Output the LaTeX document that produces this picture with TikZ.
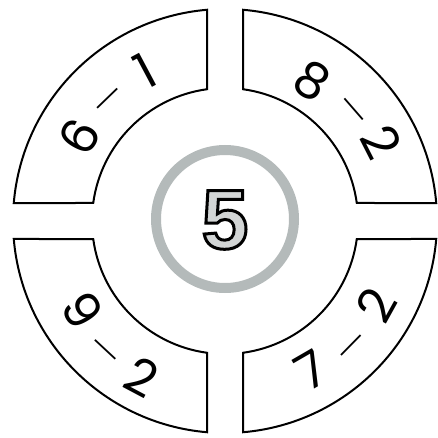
\documentclass[tikz,border=0pt]{standalone}
\usepackage{fontspec}
\setmainfont{Poppins}
\newfontfamily\fivefont{Liberation Sans}
\definecolor{ringgray}{HTML}{B4BABA}
\definecolor{fivegray}{HTML}{D2D5D5}
\begin{document}
\begin{tikzpicture}[x=1pt,y=1pt,
  sector/.style={draw=black,line width=2pt,fill=white,line join=miter},
  digit/.style={font=\fontsize{50}{50}\selectfont,inner sep=0pt},
  dashmark/.style={font=\fivefont\fontsize{28}{28}\selectfont,inner sep=0pt},
]
\useasboundingbox (0,0) rectangle (438,437);
\begin{scope}[shift={(225,216)}]
% four quarter-ring sectors
\draw[sector] (85.13:212) arc[start angle=85.13,end angle=4.87,radius=212]
  -- (7.78:133) arc[start angle=7.78,end angle=82.22,radius=133] -- cycle;
\draw[sector] (94.87:212) arc[start angle=94.87,end angle=175.13,radius=212]
  -- (172.22:133) arc[start angle=172.22,end angle=97.78,radius=133] -- cycle;
\draw[sector] (184.87:212) arc[start angle=184.87,end angle=265.13,radius=212]
  -- (262.22:133) arc[start angle=262.22,end angle=187.78,radius=133] -- cycle;
\draw[sector] (274.87:212) arc[start angle=274.87,end angle=355.13,radius=212]
  -- (352.22:133) arc[start angle=352.22,end angle=277.78,radius=133] -- cycle;
% centre ring and number
\draw[ringgray,line width=10pt] (0,2) circle[radius=69];
\node[inner sep=0pt,font=\fivefont\bfseries\fontsize{84}{84}\selectfont,text=fivegray] (five) at (0,1)
  {\special{pdf:literal direct 2 Tr 3 w 0 0 0 RG}5\special{pdf:literal direct 0 Tr}};
% top-left
\node[digit,rotate=60] (tla) at (150:168) {6};
\node[dashmark,rotate=44] (tlb) at (134:172) {\vphantom{0}—};
\node[digit,rotate=28] (tlc) at (118:170) {1};
% top-right
\node[digit,rotate=-32] (tra) at (58:165) {8};
\node[dashmark,rotate=-49] (trb) at (41:173) {\vphantom{0}—};
\node[digit,rotate=-63] (trc) at (27:175) {2};
% bottom-left
\node[digit,rotate=302] (bla) at (212:168) {9};
\node[dashmark,rotate=317] (blb) at (227:173) {\vphantom{0}—};
\node[digit,rotate=332] (blc) at (242:177) {2};
% bottom-right
\node[digit,rotate=30] (bra) at (300:172) {7};
\node[dashmark,rotate=45.5] (brb) at (315.5:175) {\vphantom{0}—};
\node[digit,rotate=61] (brc) at (331:173) {2};
\end{scope}
\end{tikzpicture}
\end{document}
